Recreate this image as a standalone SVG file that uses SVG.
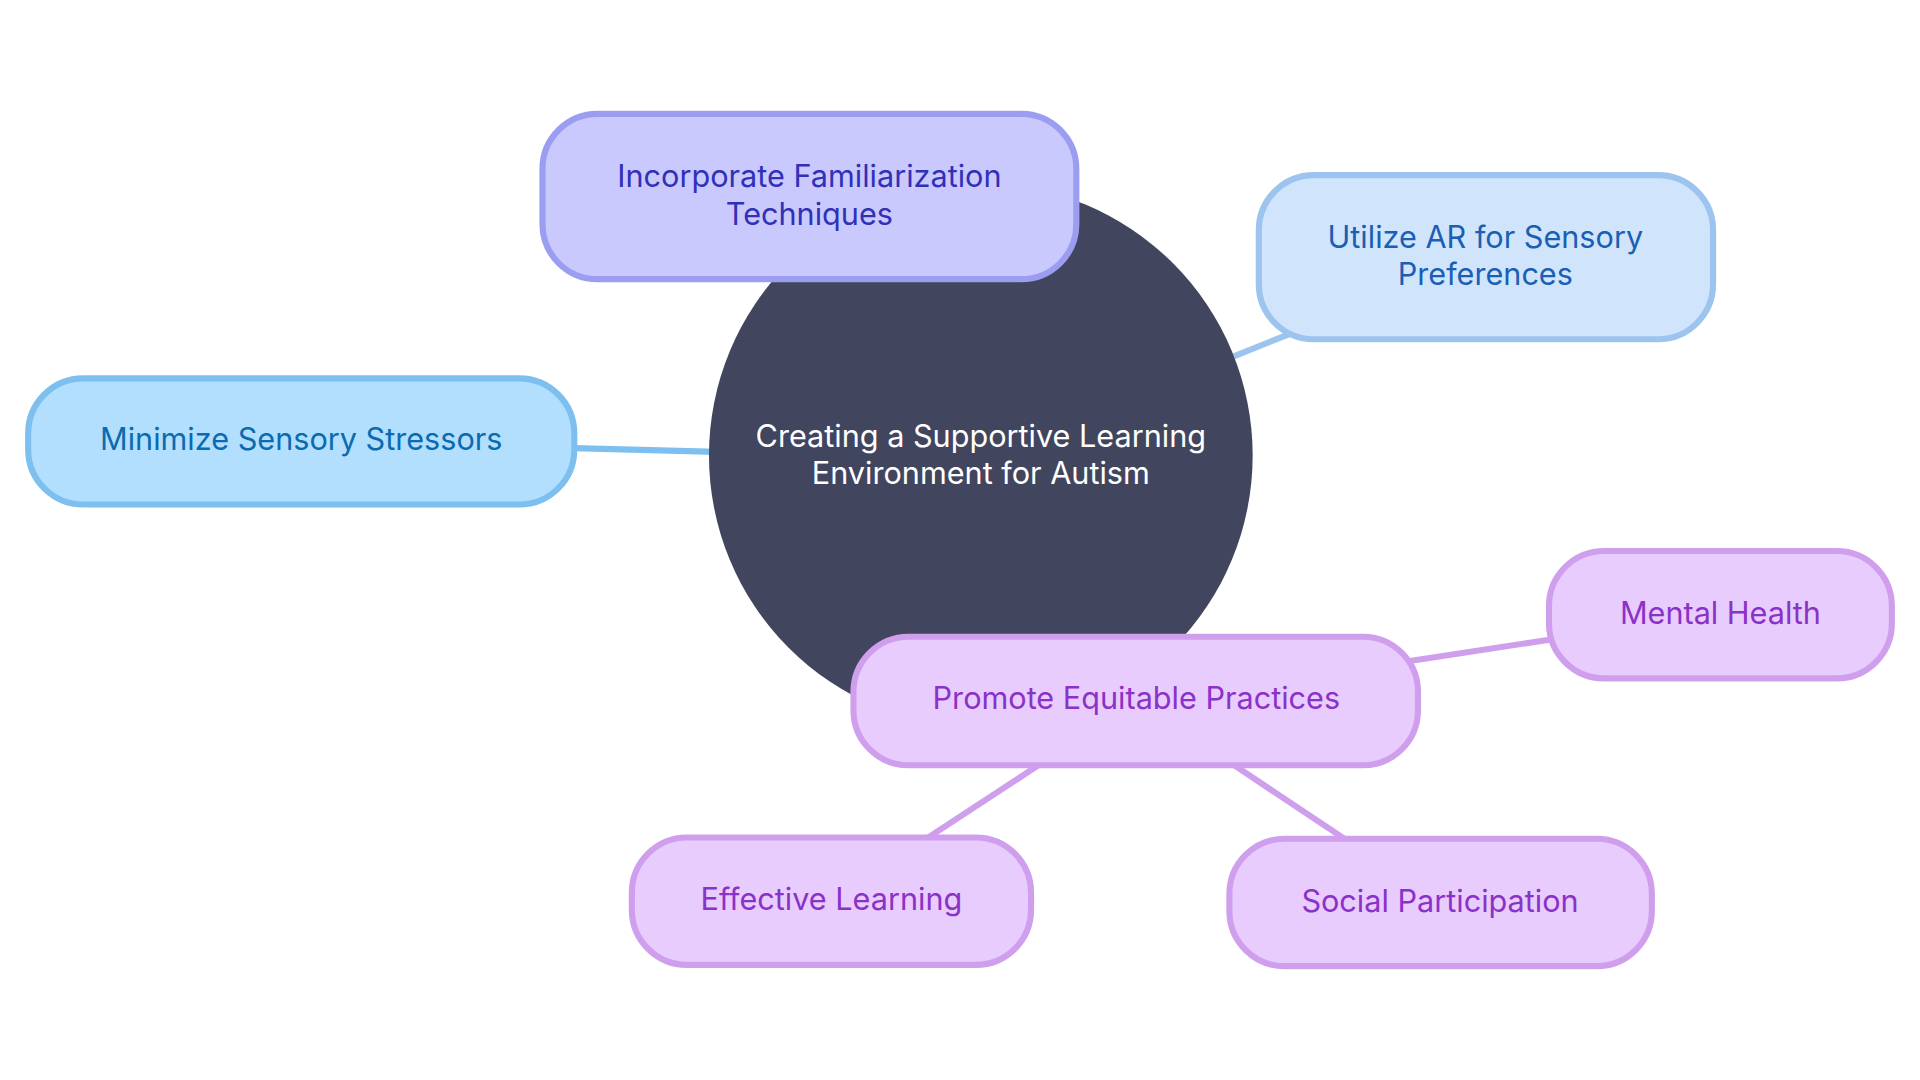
<svg xmlns="http://www.w3.org/2000/svg" width="1920" height="1080" viewBox="0 0 1920 1080">
<style>
text{font-family:Inter,"Noto Sans",sans-serif;font-size:25px;text-anchor:middle;dominant-baseline:central}
.e{fill:none;stroke-width:5}
.n rect{stroke-width:5}
.b1 rect{fill:#c9c9fe;stroke:#9b9ef0}.b1 text{fill:#3030b8}
.b2 rect{fill:#d0e5fc;stroke:#9cc4ee}.b2 text{fill:#1a5fb4}
.b3 rect{fill:#b3dffe;stroke:#7dbfee}.b3 text{fill:#0a6bb0}
.p rect{fill:#e8ccfe;stroke:#cf9fee}.p text{fill:#8a32c8}
</style>
<rect width="1920" height="1080" fill="#fff"/>
<g transform="scale(1.2245)">
<g id="connectors">
<line class="e" x1="469" y1="366" x2="585" y2="369" stroke="#7dbfee"/>
<line class="e" x1="1005" y1="292" x2="1055" y2="272" stroke="#9cc4ee"/>
<line class="e" x1="1150" y1="540" x2="1268" y2="522" stroke="#cf9fee"/>
<line class="e" x1="848" y1="625" x2="758" y2="684" stroke="#cf9fee"/>
<line class="e" x1="1008" y1="625" x2="1098" y2="685" stroke="#cf9fee"/>
</g>
<g id="root"><circle cx="801" cy="372" r="222" fill="#41455e"/>
<text x="801" y="356" fill="#fff">Creating a Supportive Learning</text><text x="801" y="386" fill="#fff">Environment for Autism</text></g>
<g id="incorporate" class="n b1"><rect x="443" y="93" width="436" height="135" rx="45"/><text x="661" y="143">Incorporate Familiarization</text><text x="661" y="174">Techniques</text></g>
<g id="utilize" class="n b2"><rect x="1028" y="143" width="371" height="134" rx="45"/><text x="1213" y="193">Utilize AR for Sensory</text><text x="1213" y="223">Preferences</text></g>
<g id="minimize" class="n b3"><rect x="23" y="309" width="446" height="103" rx="45"/><text x="246" y="358">Minimize Sensory Stressors</text></g>
<g id="promote" class="n p"><rect x="697" y="520" width="461" height="105" rx="45"/><text x="928" y="570">Promote Equitable Practices</text></g>
<g id="mental" class="n p"><rect x="1265" y="450" width="280" height="104" rx="45"/><text x="1405" y="500">Mental Health</text></g>
<g id="effective" class="n p"><rect x="516" y="684" width="326" height="104" rx="45"/><text x="679" y="734">Effective Learning</text></g>
<g id="social" class="n p"><rect x="1004" y="685" width="345" height="104" rx="45"/><text x="1176" y="735">Social Participation</text></g>
</g>
</svg>
